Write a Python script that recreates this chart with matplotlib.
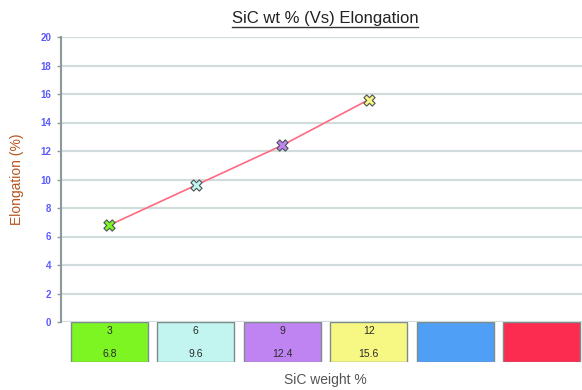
import numpy as np
import matplotlib
matplotlib.use("Agg")
import matplotlib.pyplot as plt
from matplotlib.lines import Line2D

# SiC content vs elongation
sic_wt = ["3", "6", "9", "12", "", ""]
elong = [6.8, 9.6, 12.4, 15.6]
elong_labels = ["6.8", "9.6", "12.4", "15.6", "", ""]
box_colors = ["#7df522", "#c2f5ef", "#c084f2", "#f7f784", "#4f9ff7", "#fc2c50"]
yticks = np.arange(0, 21, 2)

plt.rcParams["font.family"] = ["Liberation Sans", "DejaVu Sans"]

W, H = 582, 390
fig = plt.figure(figsize=(W / 100, H / 100), dpi=100)

x0, x1 = 61, 582
ytop, ybot = 37, 322
ax = fig.add_axes([x0 / W, 1 - ybot / H, (x1 - x0) / W, (ybot - ytop) / H])

xmin = -0.561
xmax = xmin + (x1 - x0) / 86.4
ax.set_xlim(xmin, xmax)
ax.set_ylim(0, 20)
ax.set_yticks(yticks)
ax.set_yticklabels([str(v) for v in yticks], color="#5a5aff", fontsize=7,
                   fontweight="bold")
ax.set_xticks([])
ax.tick_params(axis="y", length=3, width=1, color="#8a9a9a", pad=4)
ax.grid(axis="y", color="#d3dcdc", linewidth=1.6)
ax.set_axisbelow(True)
for s in ["top", "right", "bottom"]:
    ax.spines[s].set_visible(False)
ax.spines["left"].set_color("#8a9a9a")
ax.spines["left"].set_linewidth(1.5)

xs = np.arange(len(elong))
ax.plot(xs, elong, color="#ff6a80", linewidth=1.2, zorder=3)
for i, v in enumerate(elong):
    ax.scatter(i, v, marker="X", s=65, facecolor=box_colors[i],
               edgecolor="#4a5555", linewidth=0.8, zorder=4)

ax.set_ylabel("Elongation (%)", color="#b5551f", fontsize=10, labelpad=12)

# colored value boxes under the plot
bx = fig.add_axes([x0 / W, 1 - 362 / H, (x1 - x0) / W, 40 / H])
bx.set_xlim(xmin, xmax)
bx.set_ylim(0, 1)
bx.axis("off")
bx.bar(np.arange(len(box_colors)), 1, width=0.89, bottom=0, align="center",
       color=box_colors, edgecolor="#7f8c8c", linewidth=1)
for i in range(len(box_colors)):
    bx.text(i, 0.77, sic_wt[i], ha="center", va="center", fontsize=7.5,
            color="#2a2a2a")
    bx.text(i, 0.2, elong_labels[i], ha="center", va="center", fontsize=7.5,
            color="#2a2a2a")

fig.text(325 / W, 1 - 380 / H, "SiC weight %", ha="center", va="center",
         fontsize=10, color="#555555")

title = fig.text(325 / W, 1 - 18 / H, "SiC wt % (Vs) Elongation", ha="center",
                 va="center", fontsize=12, color="#222222")
fig.canvas.draw()
bb = title.get_window_extent()
uy = (bb.y0 - 1) / H
fig.add_artist(Line2D([bb.x0 / W, bb.x1 / W], [uy, uy], color="#333333",
                      linewidth=1.0, transform=fig.transFigure))

fig.savefig("out.png", dpi=100, facecolor="white")
